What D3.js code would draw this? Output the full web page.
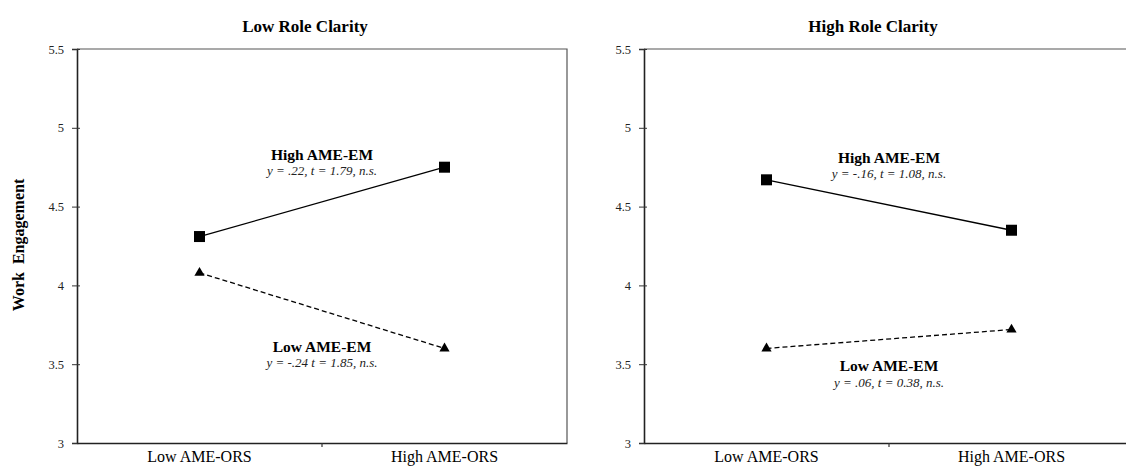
<!DOCTYPE html>
<html><head><meta charset="utf-8">
<script src="https://cdn.jsdelivr.net/npm/d3@7"></script>
<style>
body{margin:0;background:#fff;}
svg{display:block;font-family:"Liberation Serif","Times New Roman",serif;}
</style></head>
<body><svg id="chart" width="1126" height="466"></svg>
<script>
const categories = ["Low AME-ORS", "High AME-ORS"];
const yTicks = [3, 3.5, 4, 4.5, 5, 5.5];
const panelTitles = ["Low Role Clarity", "High Role Clarity"];
const highEM_lowRC = [4.31, 4.75];
const lowEM_lowRC = [4.08, 3.60];
const highEM_highRC = [4.67, 4.35];
const lowEM_highRC = [3.60, 3.72];
const seriesNames = ["High AME-EM", "Low AME-EM"];
const statsLowRC = ["y = .22, t = 1.79, n.s.", "y = -.24 t = 1.85, n.s."];
const statsHighRC = ["y = -.16, t = 1.08, n.s.", "y = .06, t = 0.38, n.s."];
const yLabel = "Work Engagement";

const svg = d3.select("#chart");
const plotTop = 49, plotBottom = 443;
const y = d3.scaleLinear().domain([3, 5.5]).range([plotBottom, plotTop]);

const panels = [
  {x0: 77, x1: 567, title: panelTitles[0], titleX: 305, high: highEM_lowRC, low: lowEM_lowRC, stats: statsLowRC,
   base: [[160, 175], [352, 367]]},
  {x0: 644, x1: 1134, title: panelTitles[1], titleX: 873, high: highEM_highRC, low: lowEM_highRC, stats: statsHighRC,
   base: [[163, 178], [371, 387]]}
];

panels.forEach(p => {
  const x = d3.scaleBand().domain(categories).range([p.x0, p.x1]).paddingInner(0).paddingOuter(0);
  const g = svg.append("g");
  g.append("path")
    .attr("d", `M${p.x0},${plotTop}H${p.x1}V${plotBottom}`)
    .attr("fill", "none").attr("stroke", "#555").attr("stroke-width", 1.2);

  const ya = g.append("g").attr("transform", `translate(${p.x0},0)`)
    .call(d3.axisLeft(y).tickValues(yTicks).tickSize(5).tickPadding(8).tickFormat(d => String(d)));
  ya.select(".domain").attr("stroke", "#222").attr("stroke-width", 1.6);
  ya.selectAll(".tick line").attr("x1", 3).attr("x2", -5).attr("stroke", "#333");
  ya.selectAll(".tick text").attr("font-size", 12.5).attr("fill", "#222")
    .attr("font-family", "Liberation Serif");

  const xa = g.append("g").attr("transform", `translate(0,${plotBottom})`)
    .call(d3.axisBottom(x).tickSize(0).tickPadding(8));
  xa.select(".domain").attr("stroke", "#222").attr("stroke-width", 1.4);
  xa.selectAll(".tick text").attr("font-size", 16).attr("fill", "#000")
    .attr("font-family", "Liberation Serif");
  xa.append("line").attr("x1", x(categories[1])).attr("x2", x(categories[1]))
    .attr("y1", 0).attr("y2", 4).attr("stroke", "#333").attr("stroke-width", 1.2);

  g.append("text").attr("x", p.titleX).attr("y", 32).attr("text-anchor", "middle")
    .attr("font-weight", "bold").attr("font-size", 17).text(p.title);

  const cx = c => x(c) + x.bandwidth() / 2;
  const line = d3.line().x((d, i) => cx(categories[i])).y(d => y(d));

  g.append("path").datum(p.high).attr("d", line).attr("fill", "none")
    .attr("stroke", "#000").attr("stroke-width", 1.3);
  g.selectAll(".sq").data(p.high).enter().append("rect")
    .attr("x", (d, i) => cx(categories[i]) - 5.5).attr("y", d => y(d) - 5.5)
    .attr("width", 11).attr("height", 11).attr("fill", "#000");

  g.append("path").datum(p.low).attr("d", line).attr("fill", "none")
    .attr("stroke", "#000").attr("stroke-width", 1.3).attr("stroke-dasharray", "5,3");
  const tri = d3.symbol().type(d3.symbolTriangle).size(45);
  g.selectAll(".tri").data(p.low).enter().append("path")
    .attr("d", tri).attr("transform", (d, i) => `translate(${cx(categories[i])},${y(d)})`)
    .attr("fill", "#000");

  const mid = x(categories[1]);
  [0, 1].forEach(k => {
    g.append("text").attr("x", mid).attr("y", p.base[k][0]).attr("text-anchor", "middle")
      .attr("font-weight", "bold").attr("font-size", 15.5).text(seriesNames[k]);
    g.append("text").attr("x", mid).attr("y", p.base[k][1]).attr("text-anchor", "middle")
      .attr("font-style", "italic").attr("font-size", 13).attr("fill", "#222").text(p.stats[k]);
  });
});

svg.append("text").attr("transform", "translate(24,245) rotate(-90)")
  .attr("text-anchor", "middle").attr("font-weight", "bold").attr("font-size", 16)
  .attr("word-spacing", 4).text(yLabel);
</script></body></html>
